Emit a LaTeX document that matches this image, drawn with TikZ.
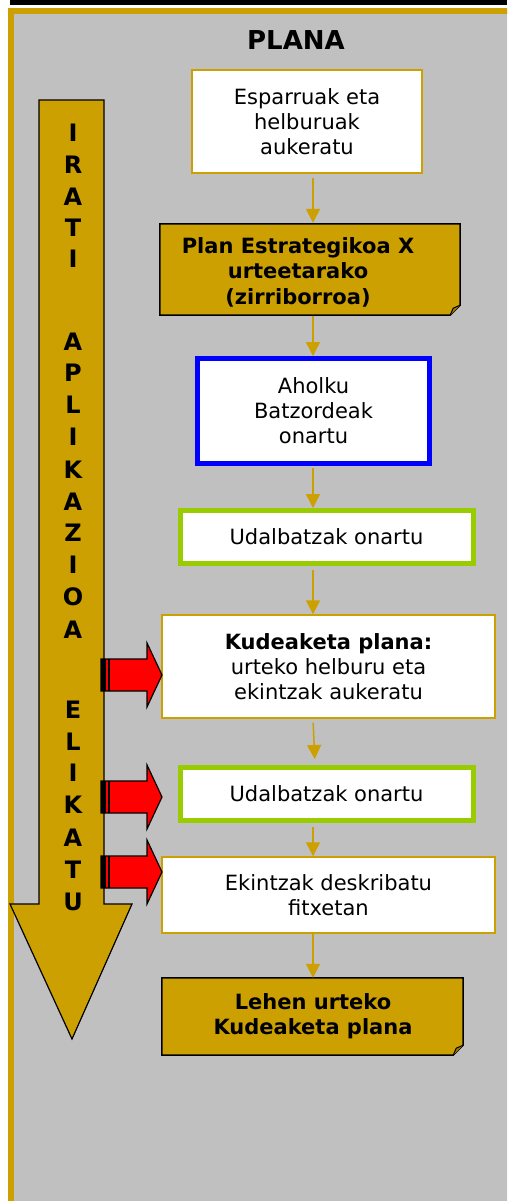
\documentclass[tikz,border=0pt]{standalone}
\usepackage{fontspec}
\setmainfont{DejaVu Sans}
\usetikzlibrary{arrows.meta,calc}
\definecolor{goldc}{RGB}{204,160,0}
\definecolor{goldd}{RGB}{160,125,0}
\definecolor{grayc}{RGB}{192,192,192}
\definecolor{bluec}{RGB}{0,0,255}
\definecolor{greenc}{RGB}{153,204,0}
\definecolor{redc}{RGB}{255,0,0}
\tikzset{
  txt/.style={font=\fontsize{21}{25}\selectfont, align=center, inner sep=0pt},
  plainbox/.style={txt, draw=goldc, line width=1.5pt, fill=white},
  bluebox/.style={txt, draw=bluec, line width=5pt, fill=white},
  greenbox/.style={txt, draw=greenc, line width=5pt, fill=white},
  docbox/.style={txt, font=\fontsize{21}{25.5}\selectfont\bfseries},
  flow/.style={goldc, line width=1.5pt, -{Triangle[width=14pt,length=14pt]}},
  letter/.style={font=\fontsize{24}{28}\selectfont\bfseries, inner sep=0pt},
}
\begin{document}
\begin{tikzpicture}[x=1pt,y=-1pt]
\useasboundingbox (0,0) rectangle (507,1201);
\clip (0,0) rectangle (507,1201);
% top bar and frame
\fill[black] (10,0) rectangle (507,5.5);
\draw[goldc, line width=6pt, fill=grayc] (11,11) rectangle (530,1230);
\node[font=\fontsize{26}{30}\selectfont\bfseries, inner sep=0pt] (title) at (296,40) {PLANA};

% big down arrow
\draw[black, line width=1.2pt, fill=goldc] (39,100) -- (104,100) -- (104,904) -- (132,904) -- (72,1039) -- (10,904) -- (39,904) -- cycle;
\foreach \ch/\yy [count=\i] in {I/133,R/165,A/197,T/228,I/259,A/342,P/373,L/405,I/437,K/470,A/502,Z/533,I/565,O/597,A/630,E/710,L/742,I/773,K/805,A/838,T/870,U/902}
  \node[letter] (l\i) at (73,\yy) {\ch};

% boxes
\node[plainbox, minimum width=230pt, minimum height=103pt] (b1) at (307,121.5) {Esparruak eta\\helburuak\\aukeratu};
% doc box 2
\node[minimum width=300pt, minimum height=91pt, inner sep=0pt] (b2) at (310,269.5) {};
\draw[black, line width=1.5pt, fill=goldc] (b2.north west) -- (b2.north east) -- ($(b2.south east)+(0,-10)$) -- ($(b2.south east)+(-10,0)$) -- (b2.south west) -- cycle;
\draw[black, line width=1pt, fill=goldd] ($(b2.south east)+(0,-10)$) -- ($(b2.south east)+(-7,-7)$) -- ($(b2.south east)+(-10,0)$);
\node[docbox] (b2t) at (298,272) {Plan Estrategikoa X\\urteetarako\\(zirriborroa)};

\node[bluebox, minimum width=232pt, minimum height=105pt] (b3) at (313.5,411) {Aholku\\Batzordeak\\onartu};
\node[greenbox, minimum width=293pt, minimum height=53pt] (b4) at (326.5,537) {Udalbatzak onartu};
\node[plainbox, minimum width=333pt, minimum height=103pt] (b5) at (328.5,666.5) {\textbf{Kudeaketa plana:}\\urteko helburu eta\\ekintzak aukeratu};
\node[greenbox, minimum width=293pt, minimum height=53pt] (b6) at (326.5,794) {Udalbatzak onartu};
\node[plainbox, minimum width=333pt, minimum height=76pt] (b7) at (328.5,895) {Ekintzak deskribatu\\fitxetan};
% doc box 8
\node[minimum width=301pt, minimum height=77pt, inner sep=0pt] (b8) at (312.5,1016.5) {};
\draw[black, line width=1.5pt, fill=goldc] (b8.north west) -- (b8.north east) -- ($(b8.south east)+(0,-10)$) -- ($(b8.south east)+(-10,0)$) -- (b8.south west) -- cycle;
\draw[black, line width=1pt, fill=goldd] ($(b8.south east)+(0,-10)$) -- ($(b8.south east)+(-7,-7)$) -- ($(b8.south east)+(-10,0)$);
\node[docbox] (b8t) at (313,1016) {Lehen urteko\\Kudeaketa plana};

% connectors
\coordinate (ax) at (313,0);
\draw[flow, shorten <=4pt, shorten >=1pt] (b1.south -| ax) -- (b2.north -| ax);
\draw[flow, shorten <=1pt, shorten >=0pt] (b2.south -| ax) -- (b3.north -| ax);
\draw[flow, shorten <=2pt, shorten >=0pt] (b3.south -| ax) -- (b4.north -| ax);
\draw[flow, shorten <=4pt, shorten >=0pt] (b4.south -| ax) -- (b5.north -| ax);
\draw[flow, shorten <=4pt, shorten >=6pt] (b5.south -| ax) -- ($(b6.north -| ax)+(2,0)$);
\draw[flow, shorten <=4pt, shorten >=0pt] (b6.south -| ax) -- (b7.north -| ax);
\draw[flow, shorten <=0pt, shorten >=0pt] (b7.south -| ax) -- (b8.north -| ax);

% red feed arrows
\foreach \yy/\tg [count=\k] in {675/b5,797/b6,872/b7} {
  \coordinate (rt\k) at (162,\yy);
  \draw[black, line width=1.2pt, fill=redc] (101,\yy-16) -- (147,\yy-16) -- (147,\yy-32) -- (rt\k) -- (147,\yy+32) -- (147,\yy+16) -- (101,\yy+16) -- cycle;
  \fill[black] (101,\yy-16) rectangle (106,\yy+16);
  \fill[black] (108,\yy-16) rectangle (110,\yy+16);
}
\end{tikzpicture}
\end{document}
